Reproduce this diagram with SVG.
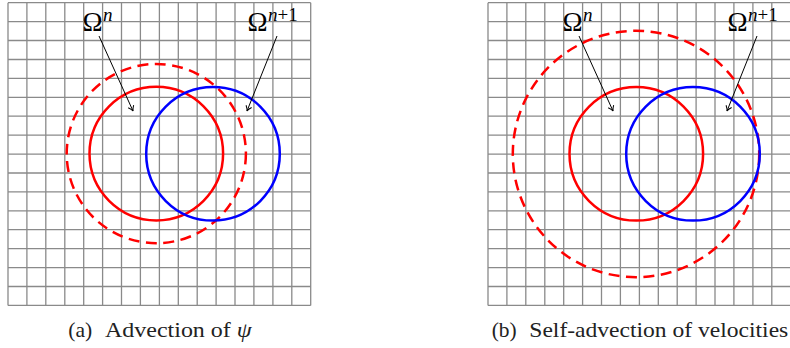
<svg xmlns="http://www.w3.org/2000/svg" width="790" height="348" viewBox="0 0 790 348">
<defs>
<style>
.grid{fill:none;stroke:#8a8a8a;stroke-width:1.3}
.red{fill:none;stroke:#ff0000;stroke-width:2.5}
.blue{fill:none;stroke:#0000ff;stroke-width:2.5}
.dash{fill:none;stroke:#ff0000;stroke-width:2.5;stroke-dasharray:11 6.5}
.arr{fill:none;stroke:#000;stroke-width:1}
.om{font-family:"Liberation Serif","DejaVu Serif",serif;font-size:27px;fill:#000}
.sup{font-family:"Liberation Serif","DejaVu Serif",serif;font-size:19px;font-style:italic;fill:#000}
.supr{font-style:normal}
.cap{font-family:"Liberation Serif","DejaVu Serif",serif;font-size:22px;fill:#222}
</style>
<marker id="ah" viewBox="-6 -4 8 8" markerWidth="8" markerHeight="8" refX="0" refY="0" orient="auto" markerUnits="userSpaceOnUse">
<path d="M-5,-3 Q-2,-0.5 0,0 Q-2,0.5 -5,3" fill="none" stroke="#000" stroke-width="1"/>
</marker>
<g id="gridpat">
<path class="grid" d="M8,2.7V305.4M26.9,2.7V305.4M45.8,2.7V305.4M64.8,2.7V305.4M83.7,2.7V305.4M102.6,2.7V305.4M121.5,2.7V305.4M140.4,2.7V305.4M159.4,2.7V305.4M178.3,2.7V305.4M197.2,2.7V305.4M216.1,2.7V305.4M235,2.7V305.4M253.9,2.7V305.4M272.9,2.7V305.4M291.8,2.7V305.4M310.7,2.7V305.4M8,2.7H310.7M8,21.6H310.7M8,40.5H310.7M8,59.5H310.7M8,78.4H310.7M8,97.3H310.7M8,116.2H310.7M8,135.1H310.7M8,154.1H310.7M8,173H310.7M8,191.9H310.7M8,210.8H310.7M8,229.7H310.7M8,248.6H310.7M8,267.6H310.7M8,286.5H310.7M8,305.4H310.7"/>
</g>
</defs>
<g id="panel-a">
<use href="#gridpat"/>
<g id="a-omega-n-dashed"><circle class="dash" cx="156.3" cy="153.6" r="89.6"/></g>
<g id="a-omega-n"><circle class="red" cx="156.3" cy="153.6" r="66.8"/></g>
<g id="a-omega-n1"><circle class="blue" cx="213" cy="153.8" r="66.8"/></g>
<g id="a-label-n"><text class="om" x="82.5" y="30.5">Ω</text><text class="sup" x="103" y="21">n</text></g>
<g id="a-label-n1"><text class="om" x="247.5" y="30.5">Ω</text><text class="sup" x="268" y="21">n<tspan class="supr">+1</tspan></text></g>
<g id="a-connectors">
<line class="arr" x1="99" y1="36" x2="133" y2="111" marker-end="url(#ah)"/>
<line class="arr" x1="277" y1="36" x2="247" y2="111" marker-end="url(#ah)"/>
</g>
<g id="a-caption">
<text class="cap" x="68.3" y="336.7" textLength="24" lengthAdjust="spacingAndGlyphs">(a)</text>
<text class="cap" x="105" y="336.7" textLength="146.7" lengthAdjust="spacingAndGlyphs">Advection of <tspan font-style="italic">ψ</tspan></text>
</g>
</g>
<g id="panel-b">
<use href="#gridpat" x="480"/>
<g id="b-omega-n-dashed"><circle class="dash" cx="636" cy="154" r="123.2"/></g>
<g id="b-omega-n"><circle class="red" cx="636.3" cy="153.8" r="66.8"/></g>
<g id="b-omega-n1"><circle class="blue" cx="693" cy="153.8" r="66.8"/></g>
<g id="b-label-n"><text class="om" x="562.5" y="30.5">Ω</text><text class="sup" x="583" y="21">n</text></g>
<g id="b-label-n1"><text class="om" x="727.5" y="30.5">Ω</text><text class="sup" x="748" y="21">n<tspan class="supr">+1</tspan></text></g>
<g id="b-connectors">
<line class="arr" x1="579" y1="36" x2="613" y2="111" marker-end="url(#ah)"/>
<line class="arr" x1="757" y1="36" x2="727" y2="111" marker-end="url(#ah)"/>
</g>
<g id="b-caption">
<text class="cap" x="491.7" y="336.7" textLength="25" lengthAdjust="spacingAndGlyphs">(b)</text>
<text class="cap" x="529.3" y="336.7" textLength="259" lengthAdjust="spacingAndGlyphs">Self-advection of velocities</text>
</g>
</g>
</svg>
